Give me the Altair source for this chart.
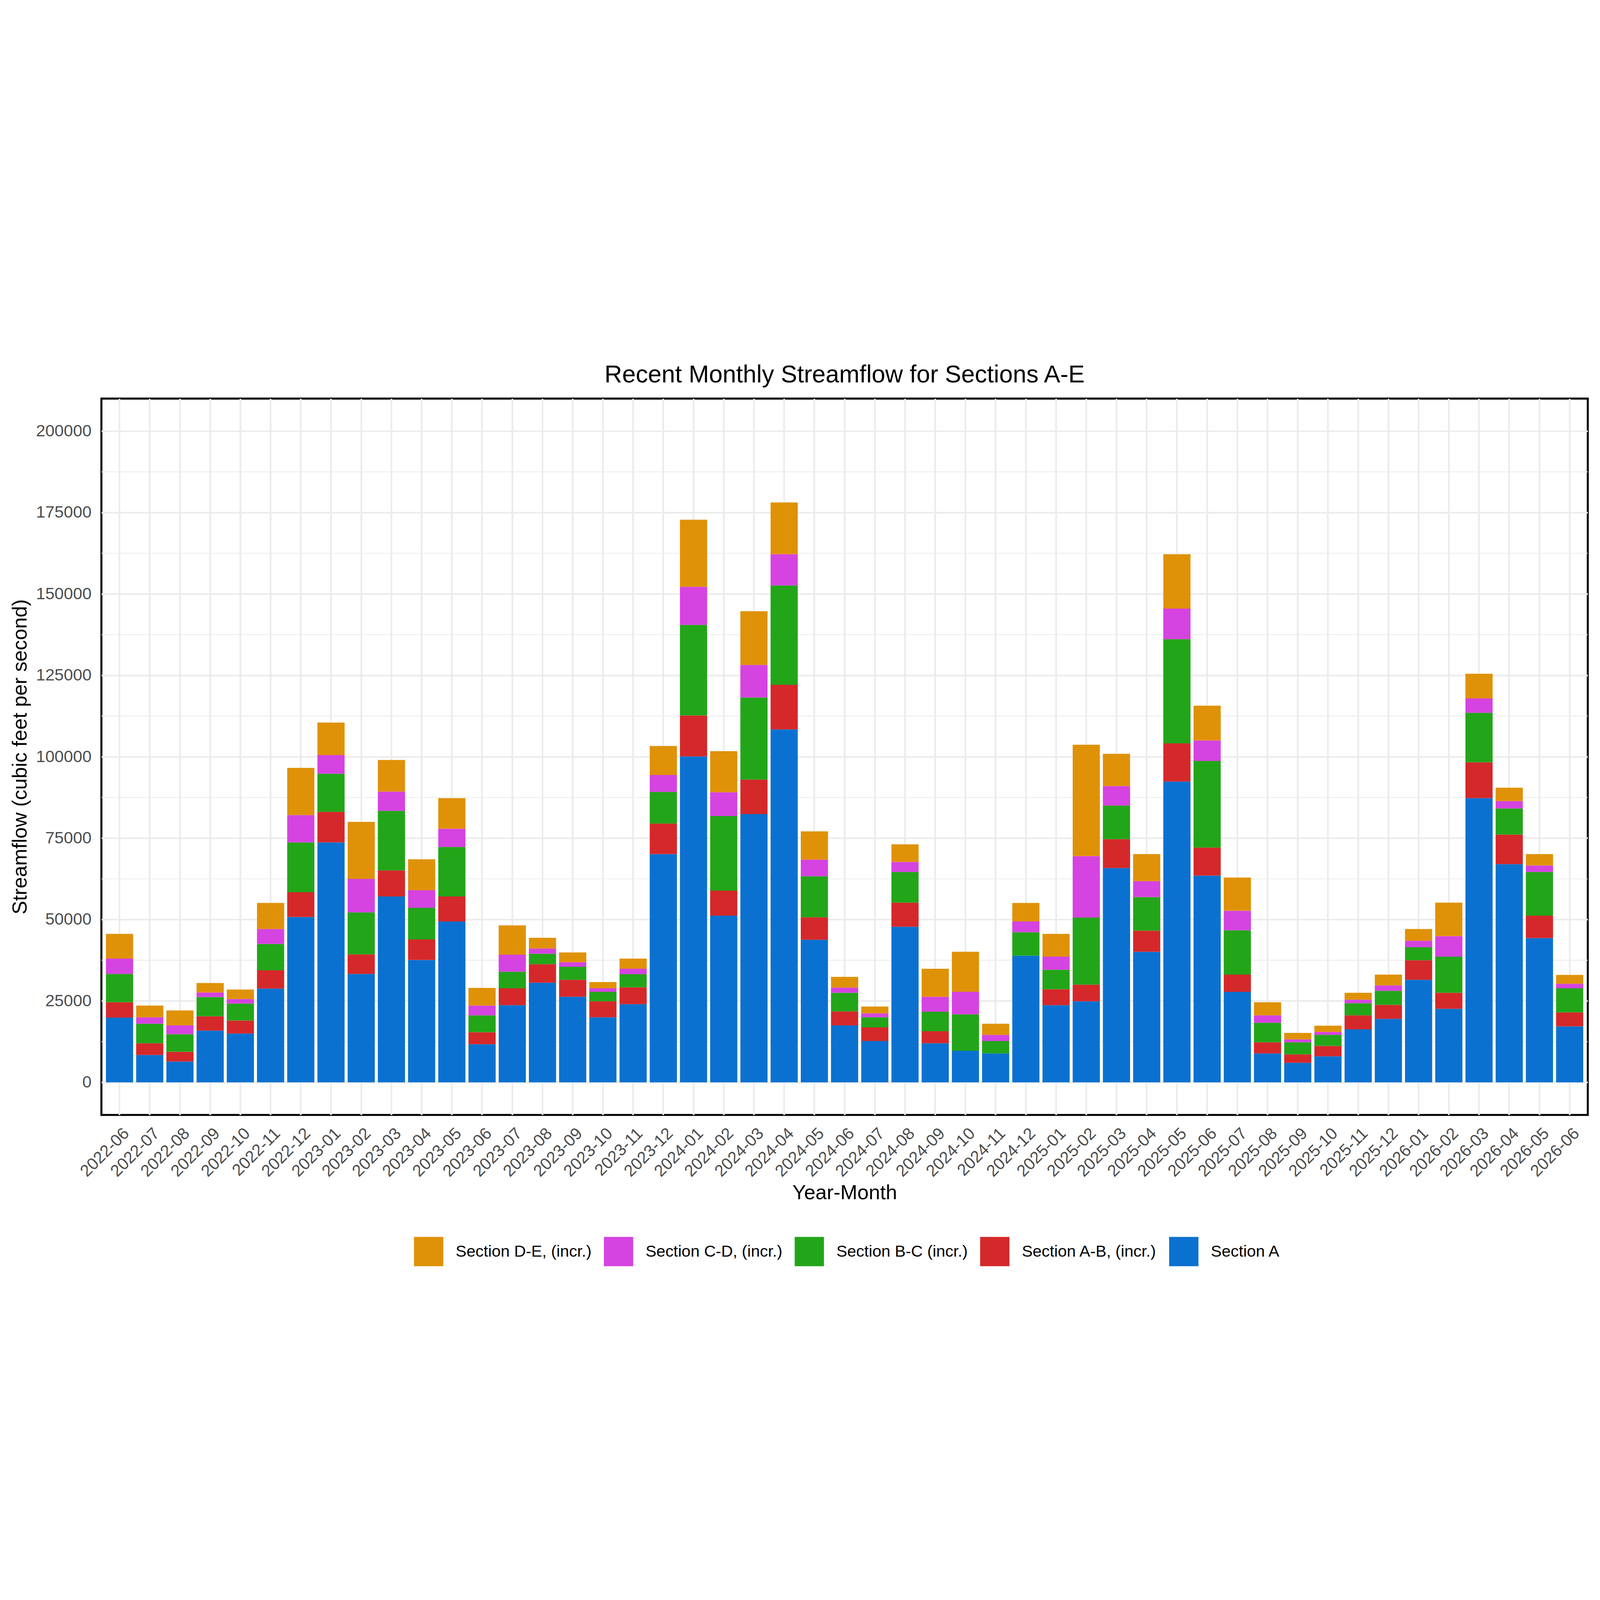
import altair as alt
import pandas as pd

months = ["2022-06", "2022-07", "2022-08", "2022-09", "2022-10", "2022-11", "2022-12",
          "2023-01", "2023-02", "2023-03", "2023-04", "2023-05", "2023-06", "2023-07",
          "2023-08", "2023-09", "2023-10", "2023-11", "2023-12",
          "2024-01", "2024-02", "2024-03", "2024-04", "2024-05", "2024-06", "2024-07",
          "2024-08", "2024-09", "2024-10", "2024-11", "2024-12",
          "2025-01", "2025-02", "2025-03", "2025-04", "2025-05", "2025-06", "2025-07",
          "2025-08", "2025-09", "2025-10", "2025-11", "2025-12",
          "2026-01", "2026-02", "2026-03", "2026-04", "2026-05", "2026-06"]

section_a = [19900, 8400, 6400, 15900, 15000, 28800, 50800, 73700, 33300, 57100,
             37600, 49400, 11700, 23700, 30600, 26300, 20000, 24000, 70100, 100100,
             51200, 82400, 108400, 43800, 17500, 12700, 47800, 12000, 9700, 8900,
             38900, 23700, 24900, 65800, 40100, 92400, 63500, 27800, 8900, 6000,
             8000, 16300, 19500, 31500, 22600, 87300, 67000, 44300, 17200]
section_ab = [4700, 3600, 3000, 4400, 4000, 5600, 7600, 9400, 6000, 8000,
              6300, 7700, 3700, 5200, 5700, 5200, 4900, 5200, 9400, 12600,
              7700, 10600, 13700, 6900, 4300, 4200, 7400, 3700, 0, 0,
              0, 4900, 5100, 8900, 6500, 11700, 8600, 5300, 3400, 2600,
              3200, 4300, 4300, 6000, 4900, 11000, 9100, 6900, 4300]
section_bc = [8700, 6000, 5400, 5900, 5200, 8100, 15300, 11700, 12900, 18300,
              9700, 15200, 5200, 5100, 3200, 4000, 2900, 4000, 9700, 27800,
              22900, 25200, 30500, 12600, 5700, 3100, 9400, 6000, 11200, 3800,
              7200, 6000, 20600, 10300, 10300, 32000, 26600, 13600, 6000, 3700,
              3400, 3700, 4300, 4000, 11100, 15200, 8000, 13400, 7400]
section_cd = [4700, 2000, 2700, 1400, 1400, 4600, 8400, 5700, 10300, 5900,
              5400, 5600, 3000, 5200, 1600, 1400, 1100, 1700, 5200, 11700,
              7300, 10000, 9600, 5100, 1600, 1200, 3100, 4600, 6900, 1900,
              3300, 4000, 18900, 6000, 4900, 9400, 6300, 6000, 2300, 900,
              900, 1100, 1700, 2000, 6300, 4400, 2300, 2000, 1400]
section_de = [7600, 3600, 4600, 2900, 2900, 8000, 14500, 10000, 17500, 9700,
              9500, 9400, 5400, 9000, 3300, 3000, 1900, 3100, 8900, 20600,
              12600, 16500, 15900, 8700, 3300, 2100, 5400, 8600, 12300, 3400,
              5700, 7000, 34200, 9900, 8300, 16700, 10700, 10200, 4000, 2000,
              1900, 2100, 3300, 3600, 10300, 7600, 4100, 3500, 2700]

legend_labels = ["Section D-E, (incr.)", "Section C-D, (incr.)", "Section B-C (incr.)",
                 "Section A-B, (incr.)", "Section A"]
legend_colors = ["#DF9208", "#D543E0", "#23A519", "#D5282A", "#0B71D0"]

y_major = [0, 25000, 50000, 75000, 100000, 125000, 150000, 175000, 200000]
y_minor = [12500, 37500, 62500, 87500, 112500, 137500, 162500, 187500]

stack_series = [
    ("Section A", section_a, 0),
    ("Section A-B, (incr.)", section_ab, 1),
    ("Section B-C (incr.)", section_bc, 2),
    ("Section C-D, (incr.)", section_cd, 3),
    ("Section D-E, (incr.)", section_de, 4),
]
rows = []
for name, vals, k in stack_series:
    for m, v in zip(months, vals):
        rows.append({"month": m, "section": name, "flow": v, "stack": k})
df = pd.DataFrame(rows)

W, H = 6700, 3229
FONT = "Liberation Sans"
yscale = alt.Scale(domain=[-10000, 210000], nice=False, zero=False)

minor = alt.Chart(pd.DataFrame({"v": y_minor})).mark_rule(
    color="#EBEBEB", strokeWidth=3.5
).encode(y=alt.Y("v:Q", scale=yscale, axis=None))

bars = alt.Chart(df).mark_bar().encode(
    x=alt.X("month:N", sort=months,
            scale=alt.Scale(paddingInner=0.1, paddingOuter=0.15),
            axis=alt.Axis(title="Year-Month", labelAngle=315, labelAlign="right",
                          labelBaseline="top", labelFontSize=75, labelColor="#4D4D4D",
                          labelPadding=46, labelOffset=6, ticks=False, tickSize=0,
                          domain=False, grid=True, gridColor="#EBEBEB", gridWidth=7.5,
                          bandPosition=0.5, labelOverlap=False, labelLimit=2000,
                          titleFontSize=92, titleColor="black", titleFontWeight="normal",
                          titleX=W / 2, titleY=380, titleBaseline="alphabetic",
                          titleAlign="center")),
    y=alt.Y("flow:Q", stack="zero", scale=yscale,
            axis=alt.Axis(orient="left", values=y_major, format="d", labelFontSize=75,
                          labelColor="#4D4D4D", labelPadding=45, ticks=False,
                          tickSize=0, domain=False, grid=True, gridColor="#EBEBEB",
                          gridWidth=7, title="Streamflow (cubic feet per second)",
                          titleFontSize=92, titleColor="black", titleFontWeight="normal",
                          titleAngle=270, titleX=-337, titleY=H / 2, labelLimit=2000,
                          titleBaseline="alphabetic", titleAlign="center")),
    color=alt.Color("section:N",
                    scale=alt.Scale(domain=legend_labels, range=legend_colors),
                    legend=alt.Legend(title=None, orient="none", legendX=1409,
                                      legendY=3779, direction="horizontal", columns=5,
                                      symbolType="square", symbolSize=17424,
                                      symbolStrokeWidth=0, symbolOpacity=1,
                                      labelFontSize=73, labelColor="black",
                                      labelOffset=56, columnPadding=55, padding=0,
                                      labelLimit=0)),
    order=alt.Order("stack:Q", sort="ascending"),
)

chart = alt.layer(minor, bars).resolve_axis(y="independent").properties(
    width=W, height=H,
    title=alt.Title("Recent Monthly Streamflow for Sections A-E", fontSize=110,
                    font=FONT, fontWeight="normal", color="black", anchor="middle",
                    frame="group", offset=-37, baseline="alphabetic"),
    padding={"left": 443, "top": 191, "right": 41, "bottom": 764},
    autosize=alt.AutoSizeParams(type="none"),
).configure(font=FONT, background="white").configure_view(
    stroke="black", strokeWidth=9, fill="white"
)

chart.save("out.html", embed_options={"renderer": "svg", "actions": False})
